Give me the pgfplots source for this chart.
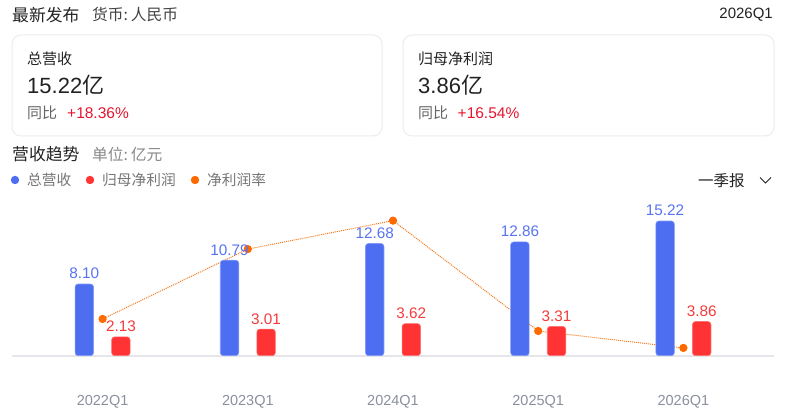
\documentclass[border=0pt]{standalone}
\usepackage{pgfplots}
\pgfplotsset{compat=1.18}
\usepackage{fontspec}
\setmainfont{Liberation Sans}
\newfontfamily\cjk{Noto Sans CJK SC}
\newcommand{\fs}[1]{\fontsize{#1}{#1}\selectfont}

\definecolor{barblue}{HTML}{4E6EF2}
\definecolor{lblblue}{HTML}{5873F0}
\definecolor{barred}{HTML}{FF3333}
\definecolor{lblred}{HTML}{F53A3A}
\definecolor{lineorange}{HTML}{F57A1C}
\definecolor{dotorange}{HTML}{FF6A00}
\definecolor{axgray}{HTML}{E6E6EA}
\definecolor{tickgray}{HTML}{8A909C}
\definecolor{cardgray}{HTML}{ECECEC}
\definecolor{txtdark}{HTML}{222222}
\definecolor{txtgray}{HTML}{666666}
\definecolor{unitgray}{HTML}{888888}
\definecolor{pctred}{HTML}{E8142D}

\begin{document}
\begin{tikzpicture}[x=1pt,y=1pt]
\path[use as bounding box] (0,0) rectangle (787,419);

% header
\node[anchor=west,inner sep=0pt,text=txtdark] at (12,404) {\cjk\fs{16.8}最新发布};
\node[anchor=west,inner sep=0pt,text=txtdark!85] at (92,404) {\cjk\fs{15.7}货币:\hspace{3pt}人民币};
\node[anchor=east,inner sep=0pt,text=txtdark] at (773,404) {\fs{15}2026Q1};

% cards
\draw[cardgray,line width=1pt,rounded corners=9pt] (12,384) rectangle (382,283);
\draw[cardgray,line width=1pt,rounded corners=9pt] (403,384) rectangle (774,283);

\node[anchor=west,inner sep=0pt,text=txtdark] at (27,360) {\cjk\fs{15}总营收};
\node[anchor=west,inner sep=0pt,text=txtdark] at (27,334) {\fs{22}15.22{\cjk 亿}};
\node[anchor=west,inner sep=0pt,text=txtgray] at (27,306) {\cjk\fs{15}同比};
\node[anchor=west,inner sep=0pt,text=pctred] at (67,306) {\fs{15.5}+18.36\%};

\node[anchor=west,inner sep=0pt,text=txtdark] at (418,360) {\cjk\fs{15}归母净利润};
\node[anchor=west,inner sep=0pt,text=txtdark] at (418,334) {\fs{22}3.86{\cjk 亿}};
\node[anchor=west,inner sep=0pt,text=txtgray] at (418,306) {\cjk\fs{15}同比};
\node[anchor=west,inner sep=0pt,text=pctred] at (457.5,306) {\fs{15.5}+16.54\%};

% section title
\node[anchor=west,inner sep=0pt,text=txtdark] at (12,265) {\cjk\fs{16.8}营收趋势};
\node[anchor=west,inner sep=0pt,text=unitgray] at (92,265) {\cjk\fs{15.7}单位:\hspace{3pt}亿元};

% legend
\fill[barblue] (15,239) circle (4.2);
\node[anchor=west,inner sep=0pt,text=txtgray!90] at (27,239) {\cjk\fs{14.7}总营收};
\fill[barred] (90,239) circle (4.2);
\node[anchor=west,inner sep=0pt,text=txtgray!90] at (102,239) {\cjk\fs{14.7}归母净利润};
\fill[dotorange] (195,239) circle (4.2);
\node[anchor=west,inner sep=0pt,text=txtgray!90] at (207,239) {\cjk\fs{14.7}净利润率};

\node[anchor=west,inner sep=0pt,text=txtdark] at (698,238) {\cjk\fs{15.5}一季报};
\draw[txtdark,line width=1pt] (760,241.5) -- (765.5,236) -- (771,241.5);

% net margin (secondary scale, drawn beneath the bars)
\begin{axis}[
  at={(12pt,63.3pt)}, anchor=south west,
  scale only axis, width=762pt, height=150.7pt,
  xmin=-0.624, xmax=4.624, ymin=25.475, ymax=28.861,
  hide axis, clip=false,
]
\addplot[lineorange, line width=1pt, densely dotted,
  mark=*, mark size=3.6pt,
  mark options={solid, fill=dotorange, draw=dotorange}]
  coordinates {(0,26.30) (1,27.87) (2,28.51) (3,26.03) (4,25.65)};
\end{axis}

% revenue and net profit bars
\begin{axis}[
  at={(12pt,63.3pt)}, anchor=south west,
  scale only axis, width=762pt, height=150.7pt,
  xmin=-0.624, xmax=4.624, ymin=0, ymax=17.03,
  axis y line=none, axis x line*=bottom,
  x axis line style={draw=axgray, line width=2pt},
  xtick={0,1,2,3,4},
  xticklabels={2022Q1,2023Q1,2024Q1,2025Q1,2026Q1},
  major tick length=0pt,
  xticklabel style={anchor=center, inner sep=0pt, yshift=-46pt,
    font=\fs{14.5}, text=tickgray},
  clip=false,
  point meta=explicit symbolic,
  nodes near coords,
  every node near coord/.append style={font=\fs{15.3}, anchor=south,
    inner sep=0pt, yshift=4.6pt},
]
\addplot[ybar, bar width=18.5pt, bar shift=-18.3pt, fill=barblue,
  draw=barblue!70!white, line width=0.6pt, rounded corners=3pt,
  every node near coord/.append style={text=lblblue, xshift=-18.3pt}]
  coordinates {(0,8.10)[8.10] (1,10.79)[10.79] (2,12.68)[12.68]
               (3,12.86)[12.86] (4,15.22)[15.22]};
\addplot[ybar, bar width=18.5pt, bar shift=18.3pt, fill=barred,
  draw=barred!70!white, line width=0.6pt, rounded corners=3pt,
  every node near coord/.append style={text=lblred, xshift=18.3pt}]
  coordinates {(0,2.13)[2.13] (1,3.01)[3.01] (2,3.62)[3.62]
               (3,3.31)[3.31] (4,3.86)[3.86]};
\end{axis}
\end{tikzpicture}
\end{document}
